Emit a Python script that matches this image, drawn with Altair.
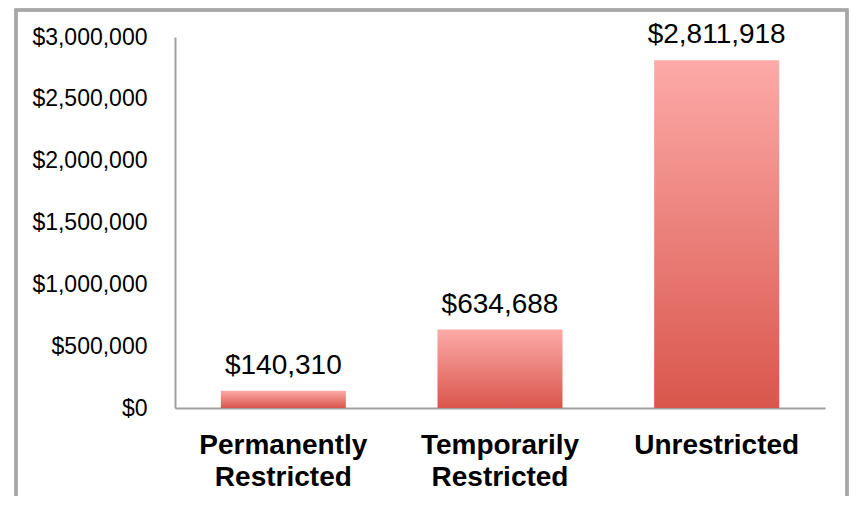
import altair as alt
import pandas as pd

categories = ["Permanently\nRestricted", "Temporarily\nRestricted", "Unrestricted"]
values = [140310, 634688, 2811918]
y_ticks = [0, 500000, 1000000, 1500000, 2000000, 2500000, 3000000]

df = pd.DataFrame({"category": categories, "value": values})

W, H = 650, 371

x_enc = alt.X(
    "category:N",
    sort=categories,
    scale=alt.Scale(paddingInner=0.423, paddingOuter=0.2115),
    axis=alt.Axis(
        title=None, ticks=False, labelAngle=0, labelFont="Liberation Sans",
        labelFontSize=28, labelFontWeight="bold", labelColor="#000000",
        labelExpr="split(datum.label, '\\n')", labelLineHeight=32,
        labelPadding=23, domainColor="#A0A0A0", domainWidth=2,
    ),
)
y_enc = alt.Y(
    "value:Q",
    scale=alt.Scale(domain=[0, 3000000], nice=False),
    axis=alt.Axis(
        title=None, values=y_ticks, format="$,.0f", ticks=False, grid=False,
        labelFont="Liberation Sans", labelFontSize=23, labelColor="#000000",
        labelPadding=28, domainColor="#A0A0A0", domainWidth=2,
    ),
)

gradient = alt.Gradient(
    gradient="linear",
    stops=[alt.GradientStop(color="#FDAAA8", offset=0),
           alt.GradientStop(color="#D9564C", offset=1)],
    x1=0, x2=0, y1=0, y2=1,
)

bars = alt.Chart(df).mark_bar(color=gradient).encode(x=x_enc, y=y_enc)

labels = alt.Chart(df).mark_text(
    font="Liberation Sans", fontSize=28, color="#000000", baseline="alphabetic", dy=-17
).encode(x=alt.X("category:N", sort=categories), y="value:Q",
         text=alt.Text("value:Q", format="$,.0f"))

frame = alt.Chart(df).mark_rect(
    fill=None, stroke="#A6A6A6", strokeWidth=3
).encode(
    x=alt.value(-159), x2=alt.value(672), y=alt.value(-27), y2=alt.value(H + 140)
)

chart = alt.layer(frame, bars, labels).properties(
    width=W, height=H,
    autosize=alt.AutoSizeParams(type="none"),
    padding={"left": 167, "top": 29, "right": 24, "bottom": 88},
).configure_view(stroke=None)

chart.save("out.html", embed_options={"renderer": "svg", "actions": False})
